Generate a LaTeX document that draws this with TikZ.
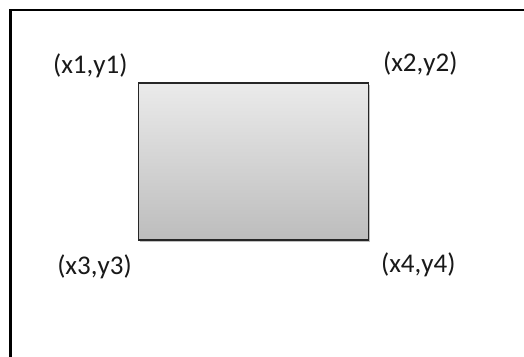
\documentclass[tikz,border=0pt]{standalone}
\usepackage{fontspec}
\setmainfont{Carlito}
\usetikzlibrary{shadows}
\begin{document}
\begin{tikzpicture}[x=1pt,y=-1pt,
  frameline/.style={line width=2.6pt,black},
  lbl/.style={font=\fontsize{27}{30}\selectfont,text=black!90,inner sep=0pt},
  boxrect/.style={draw=black!85,line width=1.2pt,top color=black!8,bottom color=black!26,
    drop shadow={shadow xshift=1.5pt,shadow yshift=-1.5pt,opacity=0.25,fill=black}}]
\useasboundingbox (0,0) rectangle (524,356);
\fill[white] (0,0) rectangle (524,356);
\coordinate (fbl) at (10.3,357);
\coordinate (ftl) at (10.3,10);
\coordinate (ftr) at (525,10);
\draw[frameline] (fbl) -- (ftl) -- (ftr);
\node[boxrect,minimum width=230.5pt,minimum height=157pt,inner sep=0pt] (box) at (253.5,161.5) {};
\node[lbl] (p1) at (90.3,65.5) {(x1,y1)};
\node[lbl] (p2) at (420.3,64) {(x2,y2)};
\node[lbl] (p3) at (94.5,266.5) {(x3,y3)};
\node[lbl] (p4) at (418.3,264.7) {(x4,y4)};
\end{tikzpicture}
\end{document}
